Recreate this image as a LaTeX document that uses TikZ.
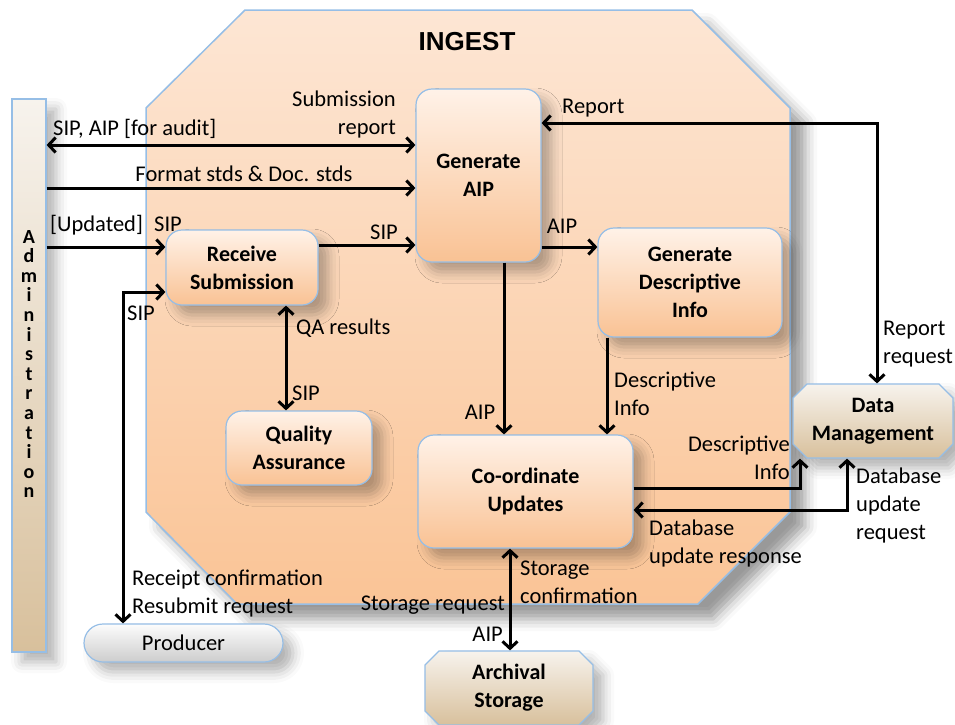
\documentclass[tikz,border=0pt]{standalone}
\usepackage{fontspec}
\setmainfont{Carlito}
\newfontfamily\ingestfont{Liberation Sans}
\usetikzlibrary{arrows.meta,shapes.misc,shadows.blur}
\definecolor{octtop}{RGB}{253,230,212}
\definecolor{octbot}{RGB}{250,196,150}
\definecolor{edgeblue}{RGB}{150,190,230}
\definecolor{boxtop}{RGB}{255,242,232}
\definecolor{boxmid}{RGB}{252,216,188}
\definecolor{boxbot}{RGB}{249,194,148}
\definecolor{tantop}{RGB}{247,243,237}
\definecolor{tanbot}{RGB}{216,192,156}
\definecolor{graytop}{RGB}{252,252,252}
\definecolor{graybot}{RGB}{205,205,205}
\begin{document}
\begin{tikzpicture}[x=1pt,y=-1pt,
  >={Straight Barb[length=7pt,width=15pt]},
  conn/.style={line width=3pt, draw=black},
  box/.style={rectangle, rounded corners=16pt, draw=edgeblue, line width=1.2pt,
    top color=boxtop, middle color=boxmid, bottom color=boxbot,
    font=\fontsize{22}{28}\selectfont\bfseries, align=center, inner sep=2pt,
    blur shadow={shadow xshift=10pt, shadow yshift=-10pt, shadow blur radius=11pt, shadow opacity=30}},
  tanbox/.style={chamfered rectangle, chamfered rectangle xsep=7pt, chamfered rectangle ysep=7pt,
    draw=edgeblue, line width=1.2pt, top color=tantop, bottom color=tanbot,
    font=\fontsize{22}{28}\selectfont\bfseries, align=center, inner sep=0pt,
    blur shadow={shadow xshift=10pt, shadow yshift=-10pt, shadow blur radius=11pt, shadow opacity=30}},
  lab/.style={font=\fontsize{22.5}{28}\selectfont, inner sep=0pt},
]
\useasboundingbox (0,0) rectangle (955,724);
% INGEST area
\path[draw=edgeblue, line width=1.5pt, top color=octtop, bottom color=octbot,
  blur shadow={shadow xshift=15pt, shadow yshift=-15pt, shadow blur radius=12pt, shadow opacity=40}]
  (245,10) -- (692,10) -- (790,108) -- (790,512) -- (698,604) -- (237,604) -- (146,512) -- (146,108) -- cycle;
\node[font=\ingestfont\bfseries\fontsize{26}{30}\selectfont, inner sep=0pt] (ingest) at (467,42) {INGEST};

% Administration bar
\node[tanbox, chamfered rectangle xsep=6pt, chamfered rectangle ysep=6pt,
  minimum width=34pt, minimum height=553pt] (admin) at (29,375.5) {};
\node[font=\fontsize{20}{19.6}\selectfont\bfseries, align=center, inner sep=0pt] (admintext) at (29,364)
  {A\\d\\m\\i\\n\\i\\s\\t\\r\\a\\t\\i\\o\\n};

% process boxes
\node[box, minimum width=125pt, minimum height=173pt] (genaip) at (478.5,175.5) {Generate\\AIP};
\node[box, minimum width=152pt, minimum height=75pt] (recv) at (242,267.5) {Receive\\Submission};
\node[box, minimum width=146pt, minimum height=74pt] (qa) at (299,448) {Quality\\Assurance};
\node[box, minimum width=184pt, minimum height=109pt] (gendesc) at (690,282.5) {Generate\\Descriptive\\Info};
\node[box, minimum width=215pt, minimum height=113pt] (coord) at (525.5,491.5) {Co-ordinate\\Updates};

% external entities
\node[tanbox, minimum width=160pt, minimum height=74pt] (dm) at (873,421) {Data\\Management};
\node[tanbox, minimum width=168pt, minimum height=74pt] (arch) at (509,688) {Archival\\Storage};
\node[rounded rectangle, draw=edgeblue, line width=1.2pt, top color=graytop, bottom color=graybot,
  minimum width=199pt, minimum height=38pt, inner sep=0pt, font=\fontsize{22.5}{28}\selectfont,
  blur shadow={shadow xshift=10pt, shadow yshift=-10pt, shadow blur radius=11pt, shadow opacity=30}]
  (producer) at (183.5,643) {Producer};

% connectors
\draw[conn,<->] (admin.east |- 0,145) -- (genaip.west |- 0,145);
\draw[conn,->] (admin.east |- 0,188) -- (genaip.west |- 0,188);
\draw[conn,->] (admin.east |- 0,247) -- (recv.west |- 0,247);
\draw[conn,->] (recv.east |- 0,245) -- (genaip.west |- 0,245);
\draw[conn,<->] (123,0 |- producer.north) |- (recv.west |- 0,292);
\draw[conn,<->] (286,0 |- recv.south) -- (286,0 |- qa.north);
\draw[conn,->] (genaip.east |- 0,247) -- (gendesc.west |- 0,247);
\draw[conn,->] (504,0 |- genaip.south) -- (504,0 |- coord.north);
\draw[conn,->] (607,0 |- gendesc.south) -- (607,0 |- coord.north);
\draw[conn,->] (coord.east |- 0,488) -| (800,0 |- dm.south);
\draw[conn,<->] (847,0 |- dm.south) |- (coord.east |- 0,510);
\draw[conn,<->] (877,0 |- dm.north) |- (genaip.east |- 0,123);
\draw[conn,<->] (510,0 |- coord.south) -- (510,0 |- arch.north);

% labels
\node[lab, anchor=east, align=right] (lsubrep) at (396,114) {Submission\\report};
\node[lab, anchor=west] (lsipaip) at (53,129) {SIP, AIP [for audit]};
\node[lab] (lfmt) at (244,174) {Format stds \& Doc. stds};
\node[lab, anchor=west] (lupd) at (50,225) {[Updated]\hspace{0.5em}SIP};
\node[lab] (lsip1) at (384,232) {SIP};
\node[lab] (lsip2) at (141,313) {SIP};
\node[lab, anchor=west] (lqa) at (296,328) {QA results};
\node[lab, anchor=west] (lsip3) at (292,393) {SIP};
\node[lab] (laip1) at (562,226) {AIP};
\node[lab, anchor=west] (lrep) at (562,108) {Report};
\node[lab] (laip2) at (480,412) {AIP};
\node[lab, anchor=west, align=left] (ldesc1) at (614,394) {Descriptive\\Info};
\node[lab, anchor=west, align=left] (lrepreq) at (883,344) {Report\\request};
\node[lab, anchor=east, align=right] (ldesc2) at (790,458) {Descriptive\\Info};
\node[lab, anchor=west, align=left] (ldbreq) at (856,505) {Database\\update\\request};
\node[lab, anchor=west, align=left] (ldbresp) at (649,543) {Database\\update response};
\node[lab, anchor=west, align=left] (lstconf) at (520,582) {Storage\\confirmation};
\node[lab, anchor=east] (lstreq) at (505,605) {Storage request};
\node[lab, anchor=east] (laip3) at (503,634) {AIP};
\node[lab, anchor=west, align=left] (lrcpt) at (132,594) {Receipt confirmation\\Resubmit request};
\end{tikzpicture}
\end{document}
